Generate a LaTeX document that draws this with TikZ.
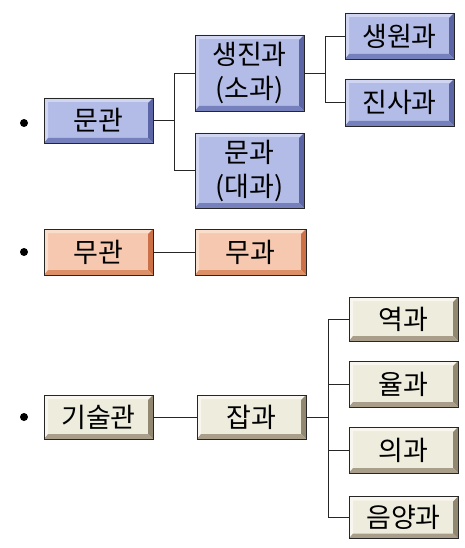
\documentclass[tikz,border=0pt]{standalone}
\usepackage{fontspec}
\newfontfamily\kr{Noto Sans CJK KR}
\definecolor{bluefill}{RGB}{178,188,230}
\definecolor{bluelight}{RGB}{208,214,242}
\definecolor{bluedark}{RGB}{92,102,166}
\definecolor{bluebot}{RGB}{118,128,188}
\definecolor{orfill}{RGB}{246,200,176}
\definecolor{orlight}{RGB}{250,222,204}
\definecolor{ordark}{RGB}{204,112,72}
\definecolor{orbot}{RGB}{220,144,104}
\definecolor{befill}{RGB}{238,236,220}
\definecolor{belight}{RGB}{248,246,238}
\definecolor{bedark}{RGB}{146,136,114}
\definecolor{bebot}{RGB}{168,158,138}
\tikzset{
  box/.style={draw=black!85, line width=0.6pt, minimum width=109pt, minimum height=45pt,
    inner sep=0pt, align=center, font=\kr\fontsize{27}{34}\selectfont,
    path picture={
      \def\bb{path picture bounding box}
      \fill[bvlight] (\bb.north west) -- (\bb.north east) -- ([xshift=-4pt,yshift=-4pt]\bb.north east) -- ([xshift=4pt,yshift=-4pt]\bb.north west) -- ([xshift=4pt,yshift=4pt]\bb.south west) -- (\bb.south west) -- cycle;
      \fill[bvdark] (\bb.north east) -- (\bb.south east) -- ([xshift=-5pt,yshift=5pt]\bb.south east) -- ([xshift=-5pt,yshift=-5pt]\bb.north east) -- cycle;
      \fill[bvbot] (\bb.south west) -- (\bb.south east) -- ([xshift=-5pt,yshift=5pt]\bb.south east) -- ([xshift=4pt,yshift=5pt]\bb.south west) -- cycle;
    }},
  bluebox/.style={box, fill=bluefill, /utils/exec={\colorlet{bvlight}{bluelight}\colorlet{bvdark}{bluedark}\colorlet{bvbot}{bluebot}}},
  orbox/.style={box, fill=orfill, /utils/exec={\colorlet{bvlight}{orlight}\colorlet{bvdark}{ordark}\colorlet{bvbot}{orbot}}},
  bebox/.style={box, fill=befill, /utils/exec={\colorlet{bvlight}{belight}\colorlet{bvdark}{bedark}\colorlet{bvbot}{bebot}}},
  tallbox/.style={minimum height=76pt},
  link/.style={draw=black!85, line width=0.7pt},
  bullet/.style={circle, fill=black, inner sep=0pt, minimum size=8pt}
}
\begin{document}
\begin{tikzpicture}[x=1pt,y=-1pt]
\useasboundingbox (0,0) rectangle (464,548);
% bullets
\node[bullet] (b1) at (24,123) {};
\node[bullet] (b2) at (24,252) {};
\node[bullet] (b3) at (24,417) {};
% civil
\node[bluebox] (mg) at (98.5,120.5) {문관};
\node[bluebox, tallbox] (sj) at (249.5,73) {생진과\\(소과)};
\node[bluebox, tallbox, minimum height=75pt] (mk) at (249.5,170.5) {문과\\(대과)};
\node[bluebox, minimum height=46pt] (sw) at (399.5,36) {생원과};
\node[bluebox, minimum height=47pt] (js) at (399.5,102.5) {진사과};
\coordinate (j1) at (174,120.5);
\coordinate (j2) at (325,73);
\draw[link] (mg.east) -- (j1) |- (sj.west);
\draw[link] (j1) |- (mk.west);
\draw[link] (sj.east) -- (j2) |- (sw.west);
\draw[link] (j2) |- (js.west);
% military
\node[orbox, minimum height=46pt] (mu) at (98.5,252) {무관};
\node[orbox, minimum height=46pt, minimum width=111pt] (mgw) at (250.5,252) {무과};
\draw[link] (mu.east) -- (mgw.west);
% technical
\node[bebox, minimum height=44pt] (gs) at (98.5,417) {기술관};
\node[bebox, minimum height=44pt] (jg) at (251.5,417) {잡과};
\node[bebox, minimum height=44pt] (yk) at (403.5,319) {역과};
\node[bebox, minimum height=46pt] (yul) at (403.5,384) {율과};
\node[bebox, minimum height=46pt] (ui) at (403.5,450) {의과};
\node[bebox, minimum height=42pt] (ey) at (403.5,517.5) {음양과};
\coordinate (j3) at (328,417);
\draw[link] (gs.east) -- (jg.west);
\draw[link] (jg.east) -- (j3);
\draw[link] (j3) |- (yk.west);
\draw[link] (j3) |- (yul.west);
\draw[link] (j3) |- (ui.west);
\draw[link] (j3) |- (ey.west);
\end{tikzpicture}
\end{document}
